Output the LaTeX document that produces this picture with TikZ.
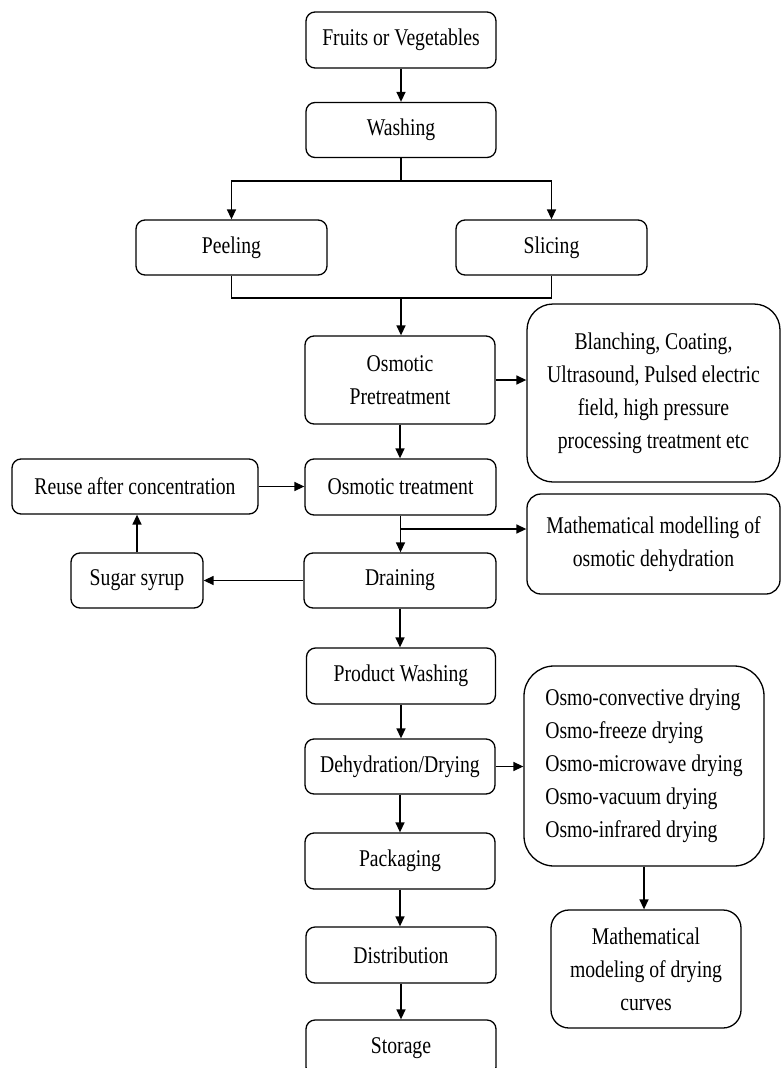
\documentclass[tikz,border=0pt]{standalone}
\usepackage{fontspec}
\setmainfont{Liberation Serif}[FakeStretch=0.82]
\usetikzlibrary{arrows.meta}
\begin{document}
\begin{tikzpicture}[x=1pt,y=-1pt,
  box/.style={draw, line width=1.3pt, rounded corners=9pt, inner sep=0pt, align=center,
    font=\fontsize{24}{33}\selectfont, text=black},
  conn/.style={line width=1.4pt, -{Triangle[length=10pt,width=9pt]}},
  plain/.style={line width=1.4pt}]
\clip (0,0) rectangle (781,1068);
\fill[white] (0,0) rectangle (781,1068);
% main column
\node[box, minimum width=190pt, minimum height=56pt] (fv) at (401,40) {Fruits or Vegetables};
\node[box, minimum width=190pt, minimum height=55pt] (wash) at (401,130) {Washing};
\node[box, minimum width=191pt, minimum height=55pt] (peel) at (231.5,247.5) {Peeling};
\node[box, minimum width=191pt, minimum height=55pt] (slice) at (551.5,247.5) {Slicing};
\node[box, minimum width=190pt, minimum height=88pt] (opt) at (400,380) {Osmotic\\Pretreatment};
\node[box, minimum width=253pt, minimum height=178pt, rounded corners=26pt] (blanch) at (653.5,393)
  {Blanching, Coating,\\Ultrasound, Pulsed electric\\field, high pressure\\processing treatment etc};
\node[box, minimum width=191pt, minimum height=56pt] (ot) at (400.5,487) {Osmotic treatment};
\node[box, minimum width=246pt, minimum height=55pt] (reuse) at (135,486.5) {Reuse after concentration};
\node[box, minimum width=253pt, minimum height=100pt, rounded corners=14pt] (mm1) at (653.5,544)
  {Mathematical modelling of\\osmotic dehydration};
\node[box, minimum width=192pt, minimum height=55pt] (drain) at (400,580.5) {Draining};
\node[box, minimum width=132pt, minimum height=55pt] (syrup) at (137,580.5) {Sugar syrup};
\node[box, minimum width=189pt, minimum height=56pt] (pw) at (401,676) {Product Washing};
\node[box, minimum width=190pt, minimum height=55pt] (dry) at (400,766.5) {Dehydration/Drying};
\node[box, minimum width=240pt, minimum height=200pt, rounded corners=30pt, align=left] (meth) at (644,766)
  {Osmo-convective drying\\Osmo-freeze drying\\Osmo-microwave drying\\Osmo-vacuum drying\\Osmo-infrared drying};
\node[box, minimum width=190pt, minimum height=118pt, rounded corners=18pt] (mm2) at (646,969)
  {Mathematical\\modeling of drying\\curves};
\node[box, minimum width=190pt, minimum height=56pt] (pack) at (400,861) {Packaging};
\node[box, minimum width=190pt, minimum height=56pt] (dist) at (401,955) {Distribution};
\node[box, minimum width=190pt, minimum height=56pt] (stor) at (401,1048) {Storage};
% helper coordinates
\coordinate (split) at (401,181);
\coordinate (merge) at (401,298);
\coordinate (b1) at (401,529);
% connectors
\draw[conn] (fv.south) -- (fv.south |- wash.north);
\draw[plain] (wash.south) -- (split);
\draw[conn] (split) -| (peel.north);
\draw[conn] (split) -| (slice.north);
\draw[plain] (peel.south) |- (merge) -| (slice.south);
\draw[conn] (merge) -- (merge |- opt.north);
\draw[conn] (opt.east) -- (opt.east -| blanch.west);
\draw[conn] (opt.south) -- (opt.south |- ot.north);
\draw[conn] (reuse.east) -- (reuse.east -| ot.west);
\draw[conn] (ot.south) -- (ot.south |- drain.north);
\draw[conn] (b1) -- (b1 -| mm1.west);
\draw[conn] (drain.west) -- (drain.west -| syrup.east);
\draw[conn] (syrup.north) -- (syrup.north |- reuse.south);
\draw[conn] (drain.south) -- (drain.south |- pw.north);
\draw[conn] (pw.south) -- (pw.south |- dry.north);
\draw[conn] (dry.east) -- (dry.east -| meth.west);
\draw[conn] (meth.south) -- (meth.south |- mm2.north);
\draw[conn] (dry.south) -- (dry.south |- pack.north);
\draw[conn] (pack.south) -- (pack.south |- dist.north);
\draw[conn] (dist.south) -- (dist.south |- stor.north);
\end{tikzpicture}
\end{document}
